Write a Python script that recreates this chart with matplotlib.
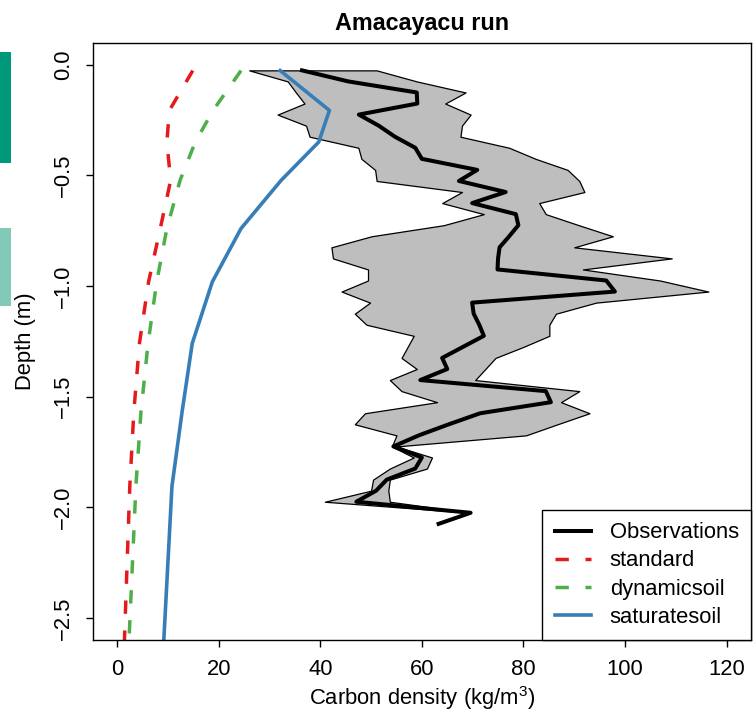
import matplotlib
matplotlib.use("Agg")
import matplotlib.pyplot as plt
from matplotlib.patches import Rectangle

plt.rcParams['font.family'] = ['Liberation Sans', 'DejaVu Sans']
plt.rcParams['mathtext.fontset'] = 'custom'
plt.rcParams['mathtext.rm'] = 'Liberation Sans'
plt.rcParams['mathtext.it'] = 'Liberation Sans'
plt.rcParams['lines.scale_dashes'] = False

# ---- data ----
obs_depth = [-0.025, -0.075, -0.125, -0.175, -0.225, -0.275, -0.325, -0.375, -0.425, -0.475,
             -0.525, -0.575, -0.625, -0.675, -0.725, -0.775, -0.825, -0.875, -0.925, -0.975,
             -1.025, -1.075, -1.125, -1.175, -1.225, -1.275, -1.325, -1.375, -1.425, -1.475,
             -1.525, -1.575, -1.625, -1.675, -1.725, -1.775, -1.825, -1.875, -1.925, -1.975,
             -2.025, -2.075]
obs_mean = [36.4, 45.5, 59.0, 59.1, 47.6, 51.5, 54.7, 58.7, 60.0, 70.9,
            67.3, 76.5, 69.9, 78.5, 79.0, 77.2, 75.3, 75.0, 74.9, 96.3,
            98.0, 69.9, 70.2, 71.3, 72.2, 68.1, 64.0, 65.0, 59.7, 84.4,
            85.4, 71.5, 65.3, 59.4, 54.4, 60.0, 58.7, 53.1, 51.0, 47.1,
            69.6, 63.3]
obs_low = [26.0, 33.6, 35.2, 36.9, 31.6, 37.2, 37.9, 47.5, 48.1, 50.8,
           51.1, 67.9, 64.0, 72.2, 64.3, 50.1, 42.2, 42.5, 49.4, 49.4,
           44.2, 49.8, 46.8, 49.1, 58.4, 57.2, 56.0, 59.0, 53.7, 56.0,
           63.0, 48.8, 46.8, 55.0, 54.1, 58.4, 53.7, 50.4, 50.0, 40.9,
           69.6, 63.3]
obs_high = [51.1, 59.0, 68.6, 64.6, 69.6, 67.9, 67.6, 77.2, 82.4, 88.7,
            91.0, 92.0, 83.1, 84.4, 90.9, 97.6, 90.0, 109.2, 91.7, 106.9,
            116.4, 94.3, 86.4, 85.1, 85.1, 80.0, 74.5, 72.5, 70.5, 91.0,
            87.4, 93.0, 86.7, 80.5, 55.0, 62.0, 61.0, 53.7, 53.4, 53.7,
            69.6, 63.3]

model_depth = [-0.026, -0.206, -0.349, -0.522, -0.74, -0.981, -1.259, -1.568, -1.906, -2.6]
standard = [14.9, 10.3, 9.8, 10.55, 8.5, 6.2, 4.4, 3.3, 2.5, 1.45]
dynamicsoil = [24.4, 18.9, 15.4, 12.4, 9.8, 7.8, 6.1, 4.7, 3.7, 2.35]
saturatesoil = [32.1, 41.8, 39.7, 32.3, 24.4, 18.75, 14.8, 12.8, 10.8, 9.2]

x_ticks = [0, 20, 40, 60, 80, 100, 120]
y_ticks = [0.0, -0.5, -1.0, -1.5, -2.0, -2.5]
y_ticklabels = ["0.0", "\u22120.5", "\u22121.0", "\u22121.5", "\u22122.0", "\u22122.5"]

# ---- figure ----
W, H = 754, 720
fig = plt.figure(figsize=(W / 100, H / 100), dpi=100)
L, R, T, B = 92.7, 751.0, 42.7, 640.0
ax = fig.add_axes([L / W, 1 - B / H, (R - L) / W, (B - T) / H])

# side bars (page artefacts)
fig.patches.append(Rectangle((0, 1 - 162.7 / H), 11 / W, 111 / H, transform=fig.transFigure,
                             facecolor='#00987a', edgecolor='none'))
fig.patches.append(Rectangle((0, 1 - 306 / H), 11 / W, 78.3 / H, transform=fig.transFigure,
                             facecolor='#80cab7', edgecolor='none'))

ax.fill_betweenx(obs_depth, obs_low, obs_high, facecolor='#bebebe', edgecolor='black',
                 linewidth=0.9, zorder=1)
ax.plot(obs_mean, obs_depth, color='black', lw=2.9, label='Observations', zorder=3,
        solid_joinstyle='round')
dash = (0, (9.6, 12.0))
ax.plot(standard, model_depth, color='#e41a1c', lw=2.5, linestyle=dash, label='standard', zorder=2)
ax.plot(dynamicsoil, model_depth, color='#4daf4a', lw=2.5, linestyle=dash, label='dynamicsoil', zorder=2)
ax.plot(saturatesoil, model_depth, color='#377eb8', lw=2.6, label='saturatesoil', zorder=2)

ax.set_xlim(-4.8, 124.8)
ax.set_ylim(-2.6, 0.1)
ax.set_xticks(x_ticks)
ax.set_xticklabels([str(v) for v in x_ticks])
ax.set_yticks(y_ticks)
ax.set_yticklabels(y_ticklabels, rotation=90, va='center')

fs = 15.8
ax.tick_params(axis='both', direction='out', length=5, width=1, labelsize=fs, pad=8.5, color='black')
for sp in ax.spines.values():
    sp.set_linewidth(1.0)

ax.set_xlabel('Carbon density (kg/m$^{3}$)', fontsize=fs, va='center')
ax.xaxis.set_label_coords(0.5, -(698 - B) / (B - T))
ax.set_ylabel('Depth (m)', fontsize=fs, va='center')
ax.yaxis.set_label_coords(-(L - 25) / (R - L), 0.5)
ax.set_title('Amacayacu run', fontweight='bold', fontsize=16.8, pad=9)

leg = ax.legend(loc='lower right', bbox_to_anchor=(1, 0), borderaxespad=0, fontsize=fs,
                fancybox=False, edgecolor='black', framealpha=1, handlelength=1.65,
                handletextpad=0.87, borderpad=0.55, labelspacing=0.33)
leg.get_frame().set_linewidth(1.0)

fig.savefig('out.png', dpi=100)
